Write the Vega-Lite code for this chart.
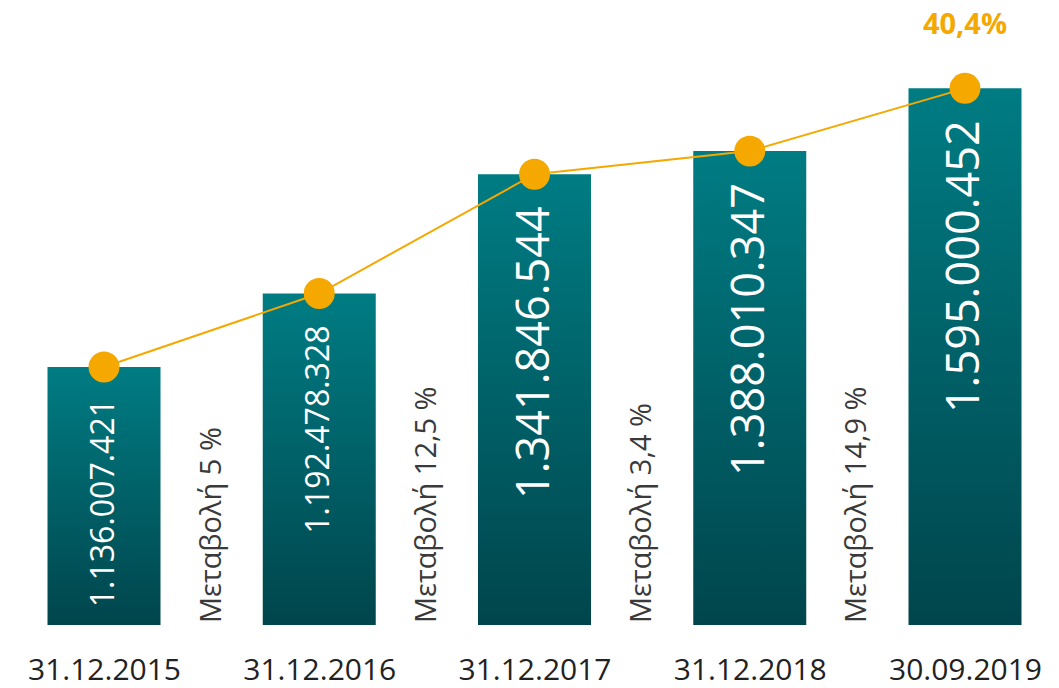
{
  "$schema": "https://vega.github.io/schema/vega-lite/v6.json",
  "width": 861,
  "height": 579,
  "autosize": "none",
  "padding": {"left": 104, "right": 94, "top": 46, "bottom": 63},
  "background": "white",
  "config": {"view": {"stroke": null}, "font": "Open Sans"},
  "datasets": {
    "bars": [
      {"slot": "31.12.2015", "value": 1136007421, "label": "1.136.007.421"},
      {"slot": "31.12.2016", "value": 1192478328, "label": "1.192.478.328"},
      {"slot": "31.12.2017", "value": 1341846544, "label": "1.341.846.544"},
      {"slot": "31.12.2018", "value": 1388010347, "label": "1.388.010.347"},
      {"slot": "30.09.2019", "value": 1595000452, "label": "1.595.000.452"}
    ],
    "changes": [
      {"slot": "m1", "text": "Μεταβολή 5 %"},
      {"slot": "m2", "text": "Μεταβολή 12,5 %"},
      {"slot": "m3", "text": "Μεταβολή 3,4 %"},
      {"slot": "m4", "text": "Μεταβολή 14,9 %"}
    ],
    "total": [
      {"slot": "30.09.2019", "value": 1595000452, "text": "40,4%"}
    ]
  },
  "encoding": {
    "x": {
      "field": "slot",
      "type": "nominal",
      "scale": {
        "type": "point",
        "padding": 0,
        "domain": ["31.12.2015", "m1", "31.12.2016", "m2", "31.12.2017", "m3", "31.12.2018", "m4", "30.09.2019"]
      },
      "axis": {
        "title": null,
        "values": ["31.12.2015", "31.12.2016", "31.12.2017", "31.12.2018", "30.09.2019"],
        "domain": false,
        "ticks": false,
        "grid": false,
        "labelAngle": 0,
        "labelFont": "Open Sans",
        "labelFontSize": 30,
        "labelColor": "#222222",
        "labelBaseline": "alphabetic",
        "labelPadding": 54
      }
    }
  },
  "layer": [
    {
      "data": {"name": "bars"},
      "mark": {
        "type": "bar",
        "width": 113,
        "color": {
          "gradient": "linear",
          "x1": 0, "y1": 0, "x2": 0, "y2": 1,
          "stops": [
            {"offset": 0, "color": "#007C83"},
            {"offset": 1, "color": "#00454C"}
          ]
        }
      },
      "encoding": {
        "y": {"field": "value", "type": "quantitative", "scale": {"type": "pow", "exponent": -5, "domain": [1015000000, 2000000000], "zero": false, "nice": false}, "axis": null},
        "y2": {"datum": 1015000000}
      }
    },
    {
      "data": {"name": "bars"},
      "mark": {"type": "text", "angle": 270, "align": "right", "baseline": "middle", "dx": -32, "color": "white", "font": "Open Sans"},
      "encoding": {
        "y": {"field": "value", "type": "quantitative", "scale": {"type": "pow", "exponent": -5, "domain": [1015000000, 2000000000], "zero": false, "nice": false}, "axis": null},
        "text": {"field": "label"},
        "size": {"field": "value", "type": "quantitative", "scale": {"type": "threshold", "domain": [1300000000], "range": [32, 45]}, "legend": null}
      }
    },
    {
      "data": {"name": "bars"},
      "mark": {"type": "line", "color": "#F5A800", "strokeWidth": 2},
      "encoding": {
        "y": {"field": "value", "type": "quantitative", "scale": {"type": "pow", "exponent": -5, "domain": [1015000000, 2000000000], "zero": false, "nice": false}, "axis": null}
      }
    },
    {
      "data": {"name": "bars"},
      "mark": {"type": "circle", "size": 960, "color": "#F5A800", "opacity": 1},
      "encoding": {
        "y": {"field": "value", "type": "quantitative", "scale": {"type": "pow", "exponent": -5, "domain": [1015000000, 2000000000], "zero": false, "nice": false}, "axis": null}
      }
    },
    {
      "data": {"name": "changes"},
      "mark": {"type": "text", "angle": 270, "align": "left", "baseline": "middle", "dx": 2, "fontSize": 29, "color": "#3A3A3A", "font": "Open Sans"},
      "encoding": {
        "y": {"datum": 1015000000, "type": "quantitative", "scale": {"type": "pow", "exponent": -5, "domain": [1015000000, 2000000000], "zero": false, "nice": false}, "axis": null},
        "text": {"field": "text"}
      }
    },
    {
      "data": {"name": "total"},
      "mark": {"type": "text", "baseline": "middle", "dy": -63, "fontSize": 29, "fontWeight": "bold", "color": "#F5A800", "font": "Open Sans"},
      "encoding": {
        "y": {"field": "value", "type": "quantitative", "scale": {"type": "pow", "exponent": -5, "domain": [1015000000, 2000000000], "zero": false, "nice": false}, "axis": null},
        "text": {"field": "text"}
      }
    }
  ]
}
